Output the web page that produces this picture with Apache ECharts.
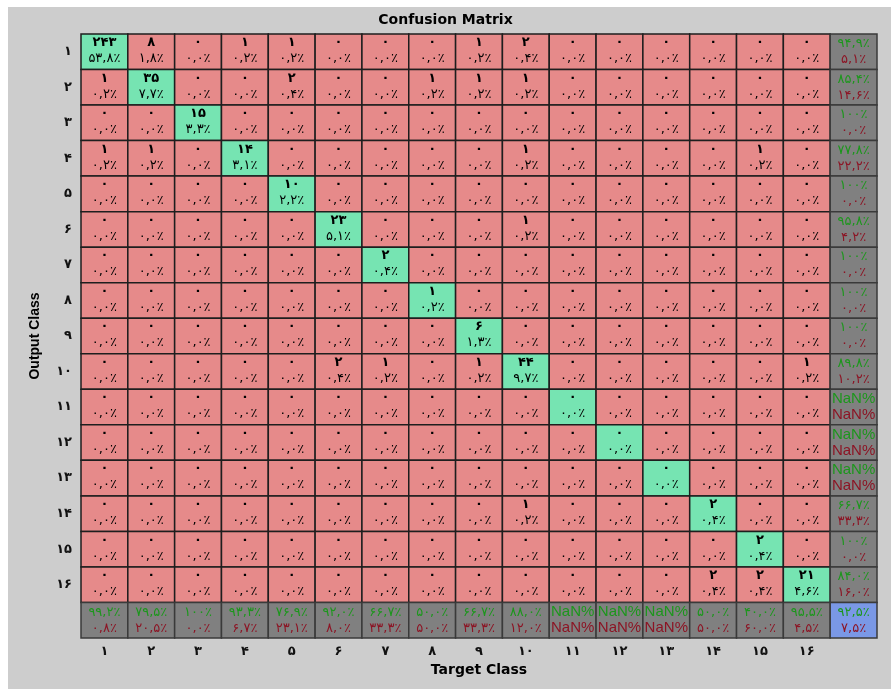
<!DOCTYPE html>
<html>
<head>
<meta charset="utf-8">
<script src="https://cdn.jsdelivr.net/npm/echarts@6/dist/echarts.min.js"></script>
<style>
  html, body { margin: 0; padding: 0; background: #fff; }
  #frame { position: absolute; left: 8px; top: 7px; width: 883px; height: 682px; background: #cdcdcd; }
  #chart { position: absolute; left: 0; top: 0; width: 891px; height: 689px; }
</style>
</head>
<body>
<div id="frame"></div>
<div id="chart"></div>
<script>
// class labels (Persian digits), last slot is the summary column/row
const targetClasses = ['۱', '۲', '۳', '۴', '۵', '۶', '۷', '۸', '۹', '۱۰', '۱۱', '۱۲', '۱۳', '۱۴', '۱۵', '۱۶'];
const outputClasses = ['۱', '۲', '۳', '۴', '۵', '۶', '۷', '۸', '۹', '۱۰', '۱۱', '۱۲', '۱۳', '۱۴', '۱۵', '۱۶'];

// counts[row = output class][col = target class]
const counts = [
  [243, 8, 0, 1, 1, 0, 0, 0, 1, 2, 0, 0, 0, 0, 0, 0],
  [1, 35, 0, 0, 2, 0, 0, 1, 1, 1, 0, 0, 0, 0, 0, 0],
  [0, 0, 15, 0, 0, 0, 0, 0, 0, 0, 0, 0, 0, 0, 0, 0],
  [1, 1, 0, 14, 0, 0, 0, 0, 0, 1, 0, 0, 0, 0, 1, 0],
  [0, 0, 0, 0, 10, 0, 0, 0, 0, 0, 0, 0, 0, 0, 0, 0],
  [0, 0, 0, 0, 0, 23, 0, 0, 0, 1, 0, 0, 0, 0, 0, 0],
  [0, 0, 0, 0, 0, 0, 2, 0, 0, 0, 0, 0, 0, 0, 0, 0],
  [0, 0, 0, 0, 0, 0, 0, 1, 0, 0, 0, 0, 0, 0, 0, 0],
  [0, 0, 0, 0, 0, 0, 0, 0, 6, 0, 0, 0, 0, 0, 0, 0],
  [0, 0, 0, 0, 0, 2, 1, 0, 1, 44, 0, 0, 0, 0, 0, 1],
  [0, 0, 0, 0, 0, 0, 0, 0, 0, 0, 0, 0, 0, 0, 0, 0],
  [0, 0, 0, 0, 0, 0, 0, 0, 0, 0, 0, 0, 0, 0, 0, 0],
  [0, 0, 0, 0, 0, 0, 0, 0, 0, 0, 0, 0, 0, 0, 0, 0],
  [0, 0, 0, 0, 0, 0, 0, 0, 0, 1, 0, 0, 0, 2, 0, 0],
  [0, 0, 0, 0, 0, 0, 0, 0, 0, 0, 0, 0, 0, 0, 2, 0],
  [0, 0, 0, 0, 0, 0, 0, 0, 0, 0, 0, 0, 0, 2, 2, 21]
];

const colors = {
  correct: '#76e4b2',
  wrong: '#e68a8a',
  summary: '#808080',
  overall: '#7a98e6',
  good: '#1c961c',
  bad: '#8c1424'
};

const fa = '۰۱۲۳۴۵۶۷۸۹';
const toFa = s => String(s).replace(/\d/g, d => fa[d]).replace('.', ',');
function pct(a, b) {
  if (b === 0) return 'NaN%';
  const v = a / b * 100;
  return (v === 100 ? toFa('100') : toFa(v.toFixed(1))) + '٪';
}

const n = counts.length;
const total = counts.flat().reduce((s, v) => s + v, 0);
const correct = counts.reduce((s, row, i) => s + row[i], 0);

// one entry per cell: [col, row] plus what to write in it
const cells = [];
for (let r = 0; r <= n; r++) {
  for (let c = 0; c <= n; c++) {
    let cell;
    if (r < n && c < n) {
      const v = counts[r][c];
      cell = { fill: r === c ? colors.correct : colors.wrong, top: toFa(v), bottom: pct(v, total), summary: false };
    } else if (r < n) {
      const sum = counts[r].reduce((s, v) => s + v, 0);
      cell = { fill: colors.summary, top: pct(counts[r][r], sum), bottom: pct(sum - counts[r][r], sum), summary: true };
    } else if (c < n) {
      const sum = counts.reduce((s, row) => s + row[c], 0);
      cell = { fill: colors.summary, top: pct(counts[c][c], sum), bottom: pct(sum - counts[c][c], sum), summary: true };
    } else {
      cell = { fill: colors.overall, top: pct(correct, total), bottom: pct(total - correct, total), summary: true };
    }
    cell.value = [c, r];
    cells.push(cell);
  }
}

const chart = echarts.init(document.getElementById('chart'));

function cellText(text, x, y, color, bold) {
  const nan = text === 'NaN%';
  return {
    type: 'text',
    style: {
      text: text, x: x, y: y,
      align: 'center', verticalAlign: 'middle',
      fill: color,
      font: nan ? '15px "Liberation Sans"' : (bold ? 'bold ' : '') + '13px "DejaVu Sans"'
    }
  };
}

chart.setOption({
  animation: false,
  backgroundColor: 'transparent',
  title: {
    text: 'Confusion Matrix',
    left: 'center',
    top: 8,
    textStyle: { fontFamily: 'DejaVu Sans', fontWeight: 'bold', fontSize: 14, color: '#000' }
  },
  grid: { left: 81, top: 34, width: 796, height: 604 },
  xAxis: {
    type: 'category',
    data: targetClasses.concat(['']),
    name: 'Target Class',
    nameLocation: 'middle',
    nameGap: 23,
    nameTextStyle: { fontFamily: 'DejaVu Sans', fontWeight: 'bold', fontSize: 14, color: '#000' },
    axisLine: { show: false },
    axisTick: { show: false },
    axisLabel: { margin: 7, fontFamily: 'DejaVu Sans', fontWeight: 'bold', fontSize: 13, color: '#111' },
    splitLine: { show: false }
  },
  yAxis: {
    type: 'category',
    inverse: true,
    data: outputClasses.concat(['']),
    name: 'Output Class',
    nameLocation: 'middle',
    nameRotate: 90,
    nameGap: 39,
    nameTextStyle: { fontFamily: 'Liberation Sans', fontWeight: 'bold', fontSize: 14, color: '#000' },
    axisLine: { show: false },
    axisTick: { show: false },
    axisLabel: { margin: 9, fontFamily: 'DejaVu Sans', fontWeight: 'bold', fontSize: 13, color: '#111' },
    splitLine: { show: false }
  },
  series: [{
    type: 'custom',
    data: cells.map(c => c.value),
    renderItem: function (params, api) {
      const cell = cells[params.dataIndex];
      const p = api.coord([api.value(0), api.value(1)]);
      const s = api.size([1, 1]);
      const x0 = p[0] - s[0] / 2, y0 = p[1] - s[1] / 2;
      const children = [{
        type: 'rect',
        shape: { x: x0, y: y0, width: s[0], height: s[1] },
        style: { fill: cell.fill, stroke: cell.summary ? '#3a3a3a' : '#1e1e1e', lineWidth: 1.5 }
      }];
      if (cell.summary) {
        children.push(cellText(cell.top, p[0], p[1] - 8, colors.good, false));
        children.push(cellText(cell.bottom, p[0], p[1] + 8, colors.bad, false));
      } else {
        children.push(cellText(cell.top, p[0], p[1] - 9, '#000', true));
        children.push(cellText(cell.bottom, p[0], p[1] + 7, '#000', false));
      }
      return { type: 'group', children: children };
    }
  }]
});
</script>
</body>
</html>
